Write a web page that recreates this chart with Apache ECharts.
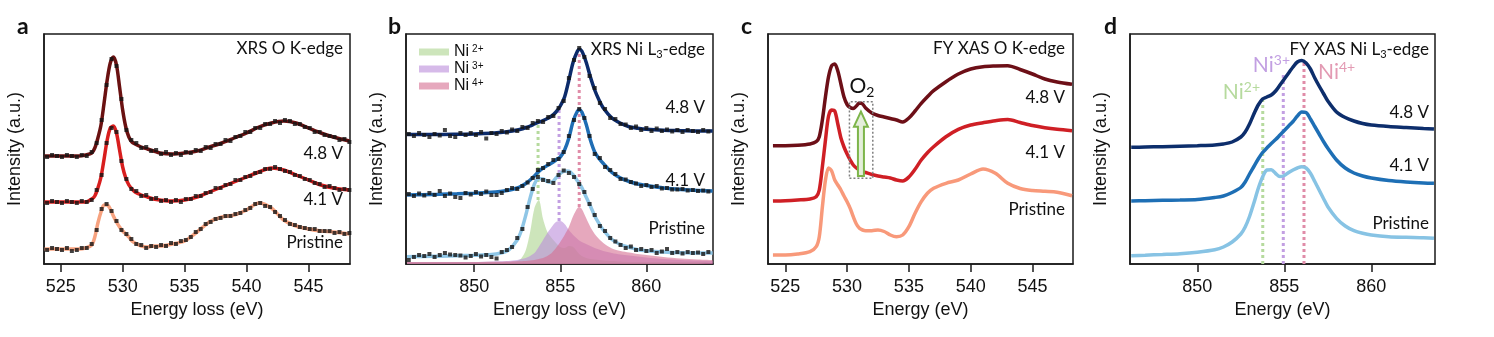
<!DOCTYPE html>
<html><head><meta charset="utf-8">
<script src="https://cdn.jsdelivr.net/npm/echarts@6/dist/echarts.min.js"></script>
<style>html,body{margin:0;padding:0;background:#fff}#c{width:1494px;height:337px}</style>
</head><body><div id="c"></div>
<script>
// ---------- Panel a: XRS O K-edge ----------
const aTicks=[525,530,535,540,545];
const aFitX=[523.7,524.5,525.5,526.5,527,527.5,527.75,528,528.25,528.5,528.75,529,529.25,529.5,529.75,530,530.25,530.5,530.75,531,531.5,532,532.5,533,534,535,536,537,538,539,540,541,542,543,544,545,546,547,548.3];
const a48Fit=[108,108,108,108,109,111,116,126,139,161,184,201,207,199,177,154,137,127,122,120,117,115,113,111,110,111,113,117,121,126,131,137,141,143,141,136,131,127,123];
const a41Fit=[62,62,62,62,62,65,68,76,87,105,124,136,138,131,114,97,86,79,75,72,69,67,65,64,63,64,67,72,77,82,87,92,96,94,89,84,79,76,74];
const aPrFit=[15,15,15,15,16,19,27,41,52,59,59,55,48,42,37,33,30,27,23,21,18,17,18,18,20,23,32,42,47,49,54,61,56,44,38,35,33,32,30];
const aDotX=[523.9,524.3,524.7,525.1,525.5,525.9,526.3,526.7,527.1,527.5,527.9,528.3,528.7,529.1,529.5,529.9,530.3,530.7,531.1,531.5,531.9,532.3,532.7,533.1,533.5,533.9,534.3,534.7,535.1,535.5,535.9,536.3,536.7,537.1,537.5,537.9,538.3,538.7,539.1,539.5,539.9,540.3,540.7,541.1,541.5,541.9,542.3,542.7,543.1,543.5,543.9,544.3,544.7,545.1,545.5,545.9,546.3,546.7,547.1,547.5,547.9,548.3];
const a48Dot=[107,109,108,107,109,108,107,109,108,112,121,144,179,205,198,165,134,124,121,116,117,113,114,110,112,109,111,109,112,111,114,113,117,116,120,120,124,123,127,128,132,132,136,136,140,140,143,141,144,143,140,140,137,136,132,132,129,128,127,124,125,122];
const a41Dot=[61,63,62,61,63,62,61,63,62,64,74,89,121,136,132,103,85,75,73,68,69,65,66,63,64,62,64,62,65,65,68,68,71,72,76,76,79,80,84,84,87,88,91,92,95,95,97,95,93,92,89,88,85,84,81,80,77,78,76,74,75,74];
const aPrDot=[14,16,15,14,16,13,14,16,16,20,34,55,60,53,43,34,30,25,20,19,16,18,17,19,18,21,20,23,24,27,32,35,40,42,45,46,48,48,50,51,54,56,60,61,58,57,52,48,44,40,39,37,36,35,35,33,33,33,31,32,30,31];

// ---------- Panel b: XRS Ni L3-edge ----------
const bTicks=[850,855,860];
const bFitX=[846.1,847,848,849,850,851,851.5,852,852.5,852.75,853,853.25,853.5,853.75,854,854.25,854.5,854.75,855,855.25,855.5,855.75,856,856.1,856.25,856.5,856.75,857,857.25,857.5,858,858.5,859,859.5,860,861,862,863,863.85];
const b48Fit=[129.5,129.5,129.5,129.7,130,130.7,131.5,132.5,134,135,136.5,138,140,141.8,143.5,145.5,148,152,158,167,184,202,213,214.7,213,202,187,174,164,156,146,140.7,137.3,135.8,134.7,133.7,133.3,133,133];
const b41Fit=[69,69.3,69.7,70.2,70.8,71.7,72.5,73.7,76,78,80.5,84,88,92.5,96,98.5,101,104,107,114,126,143,153,154,152,140,124,112,105.5,100.5,91.5,86,82.5,80,78.5,76,74.5,73.5,73];
const bPrFit=[7.3,7.5,7.8,8.2,8.7,9.5,10.8,14,24,34,49,66,80,85.5,85,82.5,81.7,86,90.5,93,92.8,89,83,80,76.5,67,58,48,40.5,34,24.5,19.5,16.7,14.3,13.2,12,11.3,11,11];
const bNi2=[2,2,2,2,2,2,2,2,3,6,14,32,56,64,45,32,26,21,17,16,18,17,12,10,8,6,5,4.5,4,3.5,3,2.5,2,2,2,2,2,2,2];
const bNi3=[2,2,2,2,2,2.5,2.7,3,4,5,6,8,11,17,24,31,37,42,43,40,34,29,25,23.5,22,20,18,16,14.5,13,11,9.5,8.5,7.5,6.5,5,4,3.5,3];
const bNi4=[2,2,2,2,2,2.2,2.3,2.5,2.7,2.8,3,3.5,4,5,6,8,11,16,22,29,37,48,56,57,55,46,37,30,25,21,15.5,13,11.5,10,9,7,5.5,4.5,4];
const bDotX=[846.2,846.5,846.8,847.1,847.4,847.7,848.0,848.3,848.6,848.9,849.2,849.5,849.8,850.1,850.4,850.7,851.0,851.3,851.6,851.9,852.2,852.5,852.8,853.1,853.4,853.7,854.0,854.3,854.6,854.9,855.2,855.5,855.8,856.1,856.4,856.7,857.0,857.3,857.6,857.9,858.2,858.5,858.8,859.1,859.4,859.7,860.0,860.3,860.6,860.9,861.2,861.5,861.8,862.1,862.4,862.7,863.0,863.3,863.6];
const b48Dot=[130,128,131,129,127,130,128.5,134,128,127,131,129,131,129,132,125.5,131,130,133,131.5,134.5,133,137,136,141,143,142,147,148,156,163,186,204,216,207,188,176,161,155,146,145,140,139.5,136,137.5,134,136,133,135.5,133,134.5,132.5,134,132,134,133,132,134,132.5];
const b41Dot=[70,68,70.5,68.5,71,69,73,68,70.5,67,66,71,69.5,72,70,72.5,69,69,71,74,76,75,78,81.5,86,94,96,100,104,105,112,128,144,155,146,128,110,106,97,94,90,85,84.5,82,80.5,78,79,77,78,75.5,76,74.5,74.5,75,73.5,74,73,73.5,72.5];
const bPrDot=[4,7,9,8,10,7,9,11,9.5,9,8.5,6.5,8,10,7.5,9,7,5.5,12,14,17,26,35,57,75,87,84,83,81,89,93.5,91,87,80,72,60,49,38,33,26,22.5,19,16,17.5,14,15,13,14,11,12.5,15,11,12,10.5,12,11,11.5,10,12];
const bMarkX=[853.71,854.93,856.10];
const bMarkLo=[64,43,57];
const bMarkHi=[142,155,214];

// ---------- Panel c: FY XAS O K-edge ----------
const cTicks=[525,530,535,540,545];
const cX=[524,525,526,527,527.5,527.75,528,528.25,528.5,528.75,529,529.25,529.5,529.75,530,530.25,530.5,530.75,531,531.25,531.5,532,532.5,533,533.5,534,534.5,535,535.5,536,536.5,537,538,539,540,541,542,543,544,545,546,547,548.2];
const c48=[118.3,118.3,118.7,120,122.3,127.3,144,167.3,187.3,198.3,200,193,180,167,159.5,156.5,155.5,158,161,160,156,151,148.5,147,145.5,144,142,146,153,160.7,167.3,173.3,182.3,190,195,197.3,198,198.3,194.5,190,185,182,179.7];
const c41=[63,63.3,64,65,67.3,74,97.3,124,148,154,153,140,126,117,110,104,99,96,94,92.5,91.5,89.5,88,87,86,84,83,87,94.7,104,111.3,117.3,127.3,134.7,139,141.3,143.3,144.5,141.5,138.5,136.3,134.7,133.3];
const cPr=[9,9,10,12.3,17.3,27.3,57,84,96,93,84,79,74,68,62.3,55.7,47.3,40,35.7,34,33.3,33.3,34,32.5,29,27.3,29,37.3,50.7,62.3,70.7,75.7,80.7,84,90,95,90.7,80.7,75.5,73.5,72.7,71.8,68.3];
const o2BoxX=[530.19,532.08];
const o2BoxY=[85.7,162.3];
const o2Arrow=[531.12,88,152.3];

// ---------- Panel d: FY XAS Ni L3-edge ----------
const dTicks=[850,855,860];
const dX=[846.2,847,848,849,850,851,851.5,852,852.5,852.75,853,853.25,853.5,853.75,854,854.25,854.5,854.75,855,855.25,855.5,855.75,856,856.25,856.5,856.75,857,857.25,857.5,858,858.5,859,859.5,860,861,862,863,863.6];
const d48=[116.7,117,117.3,117.8,118.3,119,120,122,127,132,140,150,159,165,167,169,173,179,185,191,197,202,203.5,201,195,186,178,170.5,163,152,146.5,143,140.5,139,137.5,136.5,135.5,135];
const d41=[63,63.3,63.7,64,64.5,66.5,68,71.5,76.5,82,90,97.5,105,111.5,116,120.5,124.5,129,133.5,138,142.5,148,152,151.5,145,137.5,130,122.5,115.7,104,96,91,88,86,83.5,82,81,80.7];
const dPr=[8.3,8.8,9.5,10.3,11.8,14.2,17,22,30,37,47.5,61,75.5,87,94,94.3,90.5,87.5,88.5,91.5,94,96,97.3,96,90.7,82.5,74,65.5,57.3,45.7,38,33.3,30.7,29,27.3,26.7,26.3,25.7];
const dMarkX=[853.76,854.94,856.13];
const dMarkHi=[167,189,204];

const ionNames=['Ni2+','Ni3+','Ni4+'];
const markColors=['#b6da9e','#c29fe2','#e08ca8'];
const fillColors=['rgba(172,212,142,0.6)','rgba(186,140,218,0.6)','rgba(214,110,145,0.6)'];

// ---------- build ----------
const AX='Liberation Sans', CAL='Lato';
const pr=(xs,ys)=>xs.map((x,i)=>[x,ys[i]]);
const series=[];
function fit(i,xs,ys,color,w){series.push({type:'line',xAxisIndex:i,yAxisIndex:i,data:pr(xs,ys),smooth:0.3,showSymbol:false,silent:true,lineStyle:{color:color,width:w},z:3});}
function dots(i,xs,ys){series.push({type:'scatter',xAxisIndex:i,yAxisIndex:i,data:pr(xs,ys),symbol:'rect',symbolSize:4,silent:true,itemStyle:{color:'#141414'},z:4});}
function vline(i,x,lo,hi,color){series.push({type:'line',xAxisIndex:i,yAxisIndex:i,data:[[x,lo],[x,hi]],showSymbol:false,silent:true,lineStyle:{color:color,width:3,type:[3,3]},z:2});}

// a
fit(0,aFitX,a48Fit,'#6a1111',3.5); fit(0,aFitX,a41Fit,'#d81e1e',3.5); fit(0,aFitX,aPrFit,'#f7a27f',3.5);
dots(0,aDotX,a48Dot); dots(0,aDotX,a41Dot); dots(0,aDotX,aPrDot);
// b components
[bNi2,bNi3,bNi4].forEach((arr,k)=>{series.push({type:'line',name:ionNames[k],xAxisIndex:1,yAxisIndex:1,data:pr(bFitX,arr),smooth:0.3,showSymbol:false,silent:true,lineStyle:{width:0},itemStyle:{color:fillColors[k]},areaStyle:{color:fillColors[k],opacity:1},z:1});});
bMarkX.forEach((x,k)=>vline(1,x,bMarkLo[k],bMarkHi[k],markColors[k]));
fit(1,bFitX,b48Fit,'#0c2b6b',3.5); fit(1,bFitX,b41Fit,'#1f6db4',3.5); fit(1,bFitX,bPrFit,'#8fc6e6',3.5);
dots(1,bDotX,b48Dot); dots(1,bDotX,b41Dot); dots(1,bDotX,bPrDot);
// c
fit(2,cX,c48,'#6d0f17',3.5); fit(2,cX,c41,'#cf1f25',3.5); fit(2,cX,cPr,'#f8997a',3.5);
series.push({type:'line',xAxisIndex:2,yAxisIndex:2,data:[[o2BoxX[0],o2BoxY[0]],[o2BoxX[1],o2BoxY[0]],[o2BoxX[1],o2BoxY[1]],[o2BoxX[0],o2BoxY[1]],[o2BoxX[0],o2BoxY[0]]],showSymbol:false,silent:true,lineStyle:{color:'#808080',width:1.5,type:[2,2]},z:5});
series.push({type:'custom',xAxisIndex:2,yAxisIndex:2,data:[o2Arrow],encode:{x:0,y:[1,2]},silent:true,z:6,
  renderItem:function(params,api){const p0=api.coord([api.value(0),api.value(1)]);const p1=api.coord([api.value(0),api.value(2)]);const sx=3,hx=7,hl=15;
    return {type:'polygon',shape:{points:[[p0[0]-sx,p0[1]],[p0[0]-sx,p1[1]+hl],[p0[0]-hx,p1[1]+hl],[p0[0],p1[1]],[p0[0]+hx,p1[1]+hl],[p0[0]+sx,p1[1]+hl],[p0[0]+sx,p0[1]]]},style:{fill:'#e4eedb',stroke:'#7db54a',lineWidth:2}};}});
// d
dMarkX.forEach((x,k)=>vline(3,x,0,dMarkHi[k],markColors[k]));
fit(3,dX,d48,'#0d2e6c',3.5); fit(3,dX,d41,'#1e6fb5',3.5); fit(3,dX,dPr,'#87c3e4',3.5);

const gridPos=[[44,306],[406,307],[768,305],[1130,305]];
const xr=[[523.65,548.35],[846.04,863.87],[523.6,548.28],[846.13,863.66]];
const ticks=[aTicks,bTicks,cTicks,dTicks];
const xnames=['Energy loss (eV)','Energy loss (eV)','Energy (eV)','Energy (eV)'];
const grid=gridPos.map(g=>({left:g[0],top:34,width:g[1],height:230,show:true,borderColor:'#1a1a1a',borderWidth:1.5}));
const xAxis=gridPos.map((g,i)=>({gridIndex:i,type:'value',min:xr[i][0],max:xr[i][1],splitLine:{show:false},
  axisLine:{show:true,lineStyle:{color:'#1a1a1a',width:1.5}},
  axisTick:{show:true,length:8,lineStyle:{color:'#1a1a1a',width:1.5},customValues:ticks[i]},
  axisLabel:{customValues:ticks[i],fontSize:18,fontFamily:AX,color:'#111',margin:14},
  name:xnames[i],nameLocation:'middle',nameGap:35,nameTextStyle:{fontSize:18,fontFamily:AX,color:'#111'}}));
const yAxis=gridPos.map((g,i)=>({gridIndex:i,type:'value',min:0,max:230,splitLine:{show:false},axisTick:{show:false},axisLabel:{show:false},
  axisLine:{show:true,lineStyle:{color:'#1a1a1a',width:1.5}},
  name:'Intensity (a.u.)',nameLocation:'middle',nameGap:20,nameTextStyle:{fontSize:18,fontFamily:AX,color:'#111'}}));

const rich={sub:{fontSize:11,lineHeight:11,verticalAlign:'bottom',fontFamily:CAL},sup:{fontSize:12,lineHeight:12,verticalAlign:'top',fontFamily:CAL}};
function t(x,y,text,o){return {type:'text',x:x,y:y,silent:true,style:Object.assign({text:text,fill:'#111',fontSize:17,fontFamily:CAL,align:'right',verticalAlign:'middle',lineHeight:20,rich:rich},o||{})};}
const graphic=[
 t(17,27,'a',{align:'left',fontSize:23,fontWeight:'bold'}),
 t(388,27,'b',{align:'left',fontSize:23,fontWeight:'bold'}),
 t(741,27,'c',{align:'left',fontSize:23,fontWeight:'bold'}),
 t(1104,27,'d',{align:'left',fontSize:23,fontWeight:'bold'}),
 t(343,49,'XRS O K-edge'), t(343,154,'4.8 V'), t(343,200,'4.1 V'), t(343,243,'Pristine'),
 t(705,50,'XRS Ni L{sub|3}-edge'), t(705,108,'4.8 V'), t(705,181,'4.1 V'), t(705,229,'Pristine'),
 t(1065,49,'FY XAS O K-edge'), t(1065,98,'4.8 V'), t(1065,153,'4.1 V'), t(1065,210,'Pristine'),
 t(1429,50,'FY XAS Ni L{sub|3}-edge'), t(1429,113,'4.8 V'), t(1429,166,'4.1 V'), t(1429,224,'Pristine'),
 t(862,86,'O{s2|2}',{align:'center',fontSize:21,lineHeight:26,rich:{s2:{fontSize:14,lineHeight:14,verticalAlign:'bottom',fontFamily:CAL}}}),
 t(1260,92,'Ni{p|2+}',{fill:'#b6da9e',fontSize:21,lineHeight:24,rich:{p:{fontSize:14,lineHeight:14,verticalAlign:'top',fill:'#b6da9e',fontFamily:CAL}}}),
 t(1290,65,'Ni{p|3+}',{fill:'#c29fe2',fontSize:21,lineHeight:24,rich:{p:{fontSize:14,lineHeight:14,verticalAlign:'top',fill:'#c29fe2',fontFamily:CAL}}}),
 t(1318,72,'Ni{p|4+}',{align:'left',fill:'#e39ab3',fontSize:21,lineHeight:24,rich:{p:{fontSize:14,lineHeight:14,verticalAlign:'top',fill:'#e39ab3',fontFamily:CAL}}})
];

const chart=echarts.init(document.getElementById('c'));
chart.setOption({animation:false,backgroundColor:'#fff',grid:grid,xAxis:xAxis,yAxis:yAxis,series:series,graphic:graphic,
 legend:{data:ionNames,orient:'vertical',left:414,top:39,itemWidth:30,itemHeight:7,itemGap:1,icon:'rect',selectedMode:false,
  formatter:n=>'Ni{s|'+n.slice(2)+'}',
  textStyle:{fontSize:16,fontFamily:AX,color:'#111',lineHeight:15,rich:{s:{fontSize:10,lineHeight:10,verticalAlign:'top',padding:[0,0,0,3],fontFamily:AX}}}}});
</script></body></html>
